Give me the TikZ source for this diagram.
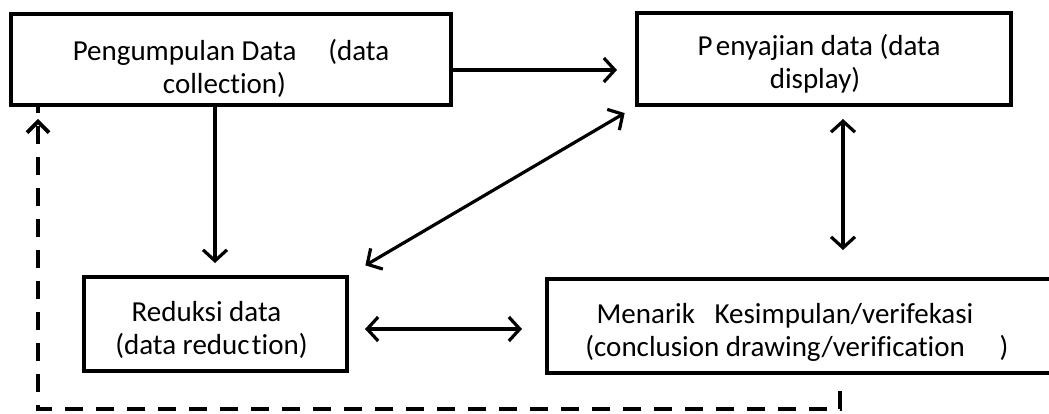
\documentclass[tikz,border=0pt]{standalone}
\usepackage{fontspec}
\setmainfont{Carlito}[Ligatures=NoCommon]
\usetikzlibrary{arrows.meta}
\begin{document}
\begin{tikzpicture}[x=1pt,y=-1pt,
  box/.style={draw, line width=4pt, rectangle, inner sep=0pt},
  txt/.style={inner sep=0pt, align=center, font=\fontsize{29}{33}\selectfont},
  tipb/.tip={Straight Barb[length=11pt,width=24pt,line width=3.2pt]},
  arr/.style={line width=3.2pt, -tipb},
  darr/.style={line width=3.2pt, tipb-tipb},
  dsh/.style={line width=4.5pt, dash pattern=on 18pt off 13pt}
]
\useasboundingbox (0,0) rectangle (1049,414);
\node[box, minimum width=440pt, minimum height=91pt] (b1) at (231,59.5) {};
\node[box, minimum width=374pt, minimum height=92pt] (b2) at (824,59) {};
\node[box, minimum width=263pt, minimum height=94pt] (b3) at (215.5,324) {};
\node[box, minimum width=504pt, minimum height=94pt] (b4) at (799,326) {};
\node[txt] (t1) at ([yshift=-9pt]b1.center)
  {Pengumpulan Data\hspace{1.1em}(data\\collection)\hspace*{13pt}};
\node[txt] (t2) at ([xshift=-5pt,yshift=-5pt]b2.center)
  {P\hspace{0.12em}enyajian data (data\\display)\hspace*{8pt}};
\node[txt] (t3) at ([xshift=-4pt,yshift=-6pt]b3.center)
  {Reduksi data\hspace*{10pt}\\(data reduc\hspace{0.08em}tion)};
\node[txt] (t4) at ([xshift=-2pt,yshift=-6pt]b4.center)
  {Menarik\hspace{0.45em} Kesimpulan/verifekasi\hspace*{24pt}\\(conclusion drawing/verification\hspace{1.2em})};
\coordinate (vx) at (843,0);
\coordinate (hy) at (0,329);
\coordinate (dl) at (38,409);
\coordinate (dr) at (840,409);
\draw[arr, shorten >=18pt] ([yshift=-10.5pt]b1.east) -- ([yshift=-11pt]b2.west);
\draw[arr, shorten >=12pt] ([xshift=-16pt]b1.south) -- ([xshift=-0.5pt]b3.north);
\draw[darr, shorten <=19pt, shorten >=12pt] (b3.north east) -- (b2.south west);
\draw[darr, shorten <=12pt, shorten >=27pt] (b2.south -| vx) -- (b4.north -| vx);
\draw[darr, shorten <=16pt, shorten >=23pt] (b3.east |- hy) -- (b4.west |- hy);
\draw[dsh] ([xshift=41pt,yshift=-16pt]b4.south) -- (dr) -- (dl) -- (dl |- b1.south);
\draw[line width=4pt, -{Straight Barb[length=11pt,width=22pt,line width=3.8pt]}, shorten >=12pt] ([yshift=-14pt]dl |- b1.south) -- (dl |- b1.south);
\end{tikzpicture}
\end{document}
